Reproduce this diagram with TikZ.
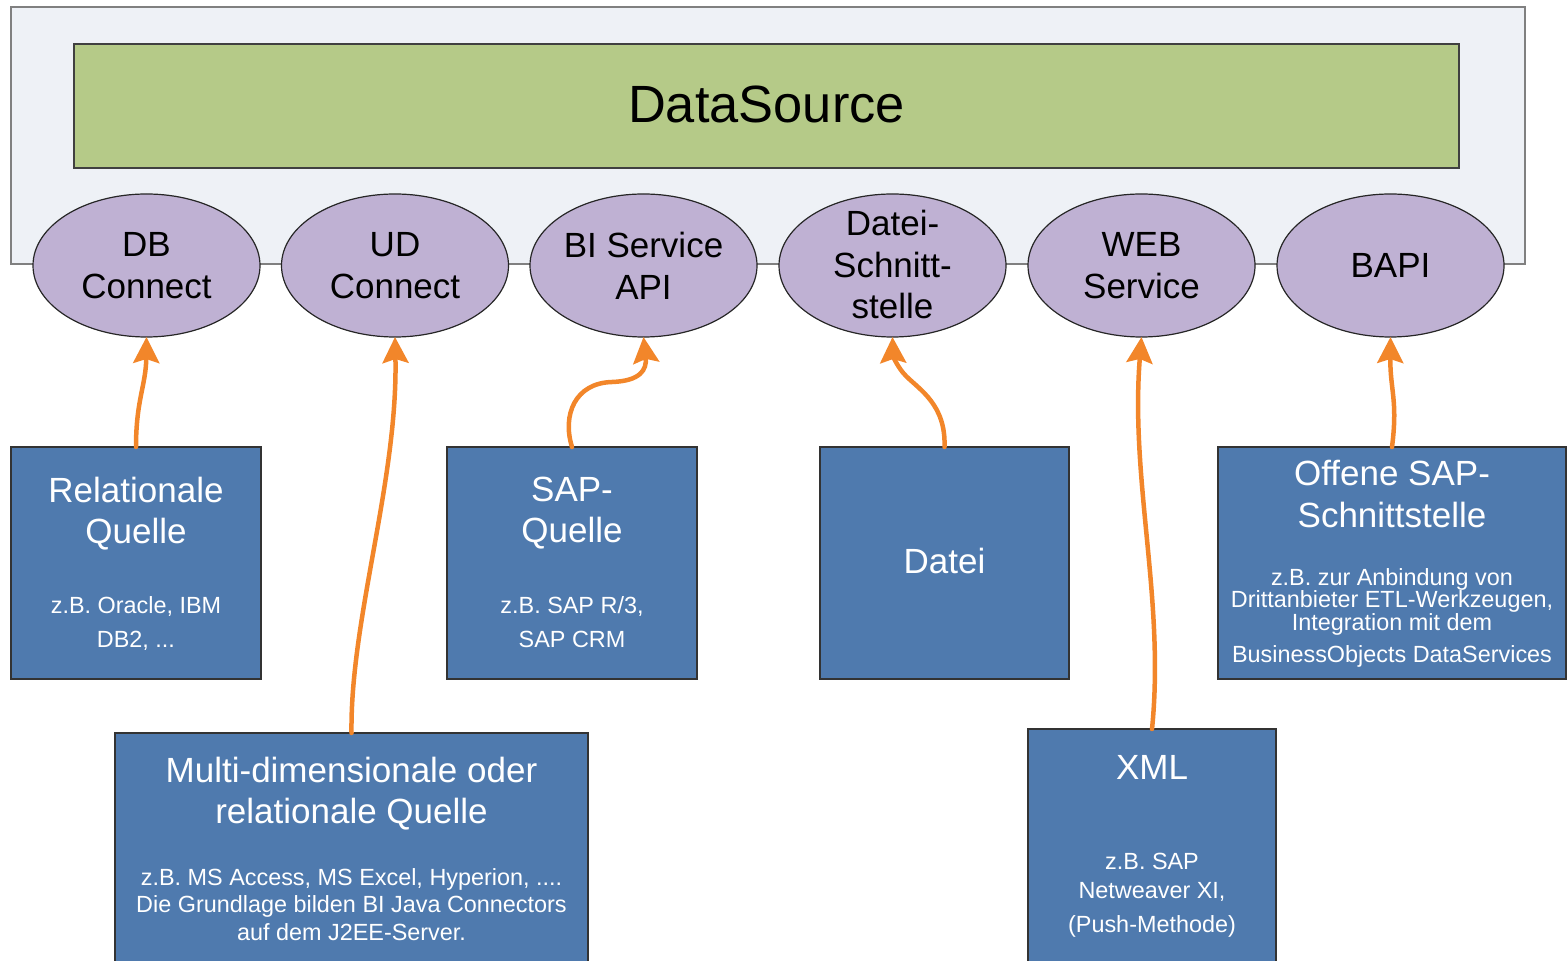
\documentclass[tikz,border=0pt]{standalone}
\usepackage{fontspec}
\setmainfont{Liberation Sans}
\usetikzlibrary{shapes.geometric,arrows.meta}
\definecolor{frfill}{RGB}{238,241,246}
\definecolor{frdraw}{RGB}{128,128,128}
\definecolor{dsgreen}{RGB}{181,202,136}
\definecolor{elpurple}{RGB}{191,177,211}
\definecolor{boxblue}{RGB}{79,122,174}
\definecolor{arrorange}{RGB}{242,134,42}
\begin{document}
\frenchspacing
\begin{tikzpicture}[x=0.5pt,y=-0.5pt,
  elli/.style={ellipse, draw=black!85, fill=elpurple, line width=0.6pt, minimum width=113.5pt, minimum height=71.5pt, inner sep=0pt, outer sep=0pt},
  ellt/.style={align=center, font=\fontsize{17.5}{21}\selectfont, inner sep=0pt},
  srcbox/.style={draw=black!80, fill=boxblue, line width=0.6pt, anchor=north west, inner sep=0pt, outer sep=0pt},
  ttl/.style={align=center, text=white, font=\fontsize{17.5}{20.5}\selectfont, inner sep=0pt, anchor=north},
  sml/.style={align=center, text=white, font=\fontsize{11.7}{17}\selectfont, inner sep=0pt, anchor=north},
  conn/.style={draw=arrorange, line width=2.25pt, line cap=round, -{Stealth[length=13pt,width=13pt,inset=2pt]}}
]
\useasboundingbox (0,0) rectangle (1567,961);

% frame and DataSource
\node (frame) [draw=frdraw, fill=frfill, line width=0.6pt, anchor=north west, inner sep=0pt, outer sep=0pt,
  minimum width=757pt, minimum height=128.5pt] at (11,7) {};
\node (ds) [draw=black!75, fill=dsgreen, line width=0.6pt, anchor=north west, inner sep=0pt, outer sep=0pt,
  minimum width=692.5pt, minimum height=62pt] at (74,44) {};
\node (dst) [font=\fontsize{26.2}{30}\selectfont, inner sep=0pt] at (766.5,104) {DataSource};

% interfaces
\node (db)   [elli] at (146.5,265.5) {};
\node (ud)   [elli] at (395,265.5) {};
\node (bi)   [elli] at (643.5,265.5) {};
\node (dsc)  [elli] at (892.5,265.5) {};
\node (web)  [elli] at (1141.5,265.5) {};
\node (bapi) [elli] at (1390.5,265.5) {};
\node (dbt)   [ellt] at (db.center) {DB\\Connect};
\node (udt)   [ellt] at (ud.center) {UD\\Connect};
\node (bit)   [ellt] at (bi.center) {BI Service\\API};
\node (dsct)  [ellt, yshift=0.5pt, font=\fontsize{17.5}{20.8}\selectfont] at (dsc.center) {Datei-\\Schnitt-\\stelle};
\node (webt)  [ellt] at (web.center) {WEB\\Service};
\node (bapit) [ellt] at (bapi.center) {BAPI};

% sources
\node (rel) [srcbox, minimum width=125pt, minimum height=116pt] at (11,447) {};
\node (sap) [srcbox, minimum width=125pt, minimum height=116pt] at (447,447) {};
\node (dat) [srcbox, minimum width=124.5pt, minimum height=116pt] at (820,447) {};
\node (off) [srcbox, minimum width=174pt, minimum height=116pt] at (1218,447) {};
\node (mul) [srcbox, minimum width=236.5pt, minimum height=118pt] at (115,733) {};
\node (xml) [srcbox, minimum width=124pt, minimum height=120pt] at (1028,729) {};

\node (relt) [ttl] at (136,477) {Relationale\\Quelle};
\node (rels) [sml] at (136,596) {z.B. Oracle, IBM\\DB2, ...};
\node (sapt) [ttl] at (572,477) {SAP-\\Quelle};
\node (saps) [sml] at (572,596) {z.B. SAP R/3,\\SAP CRM};
\node (datt) [text=white, font=\fontsize{17.5}{20.5}\selectfont, inner sep=0pt] at (944.5,561) {Datei};
\node (offt) [ttl, font=\fontsize{17.5}{21}\selectfont] at (1392,460) {Offene SAP-\\Schnittstelle};
\node (offs) [sml, font=\fontsize{11.7}{11.25}\selectfont] at (1392,568) {z.B. zur Anbindung von\\Drittanbieter ETL-Werkzeugen,\\Integration mit dem\\[4.75pt]BusinessObjects DataServices};
\node (mult) [ttl] at (351.5,757) {Multi-dimensionale oder\\relationale Quelle};
\node (muls) [sml, font=\fontsize{11.7}{13.75}\selectfont] at (351.5,868) {z.B. MS Access, MS Excel, Hyperion, ....\\Die Grundlage bilden BI Java Connectors\\auf dem J2EE-Server.};
\node (xmlt) [ttl] at (1152,755) {XML};
\node (xmls) [sml, font=\fontsize{11.7}{14.5}\selectfont] at (1152,853) {z.B. SAP\\Netweaver XI,\\[2.5pt](Push-Methode)};

% connectors
\draw[conn] (rel.north) .. controls (136,400) and (146,385) .. (db.south);
\draw[conn] (mul.north) .. controls (350,620) and (398,480) .. (ud.south);
\draw[conn] (sap.north) .. controls (562,415) and (575,383) .. (612,382) .. controls (640,381) and (647,370) .. (bi.south);
\draw[conn] (dat.north) .. controls (946,405) and (920,390) .. (906,376) .. controls (897,367) and (893,355) .. (dsc.south);
\draw[conn] (xml.north) .. controls (1165,600) and (1130,480) .. (web.south);
\draw[conn] (off.north) .. controls (1398,400) and (1390,390) .. (bapi.south);
\end{tikzpicture}
\end{document}
